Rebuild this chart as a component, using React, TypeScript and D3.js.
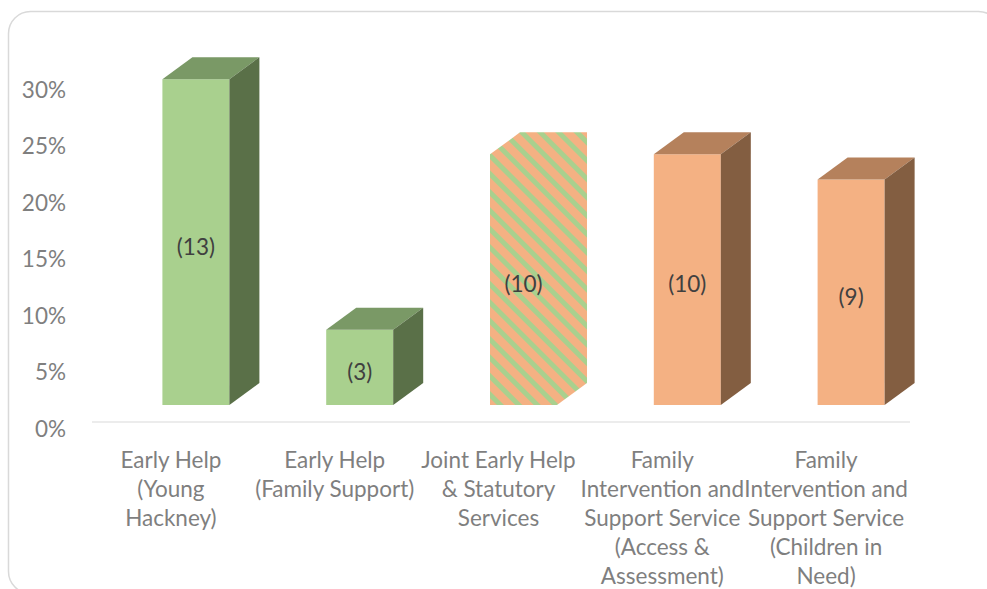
import * as d3 from "d3";
import React from "react";

// number of cases per service (shown in brackets on the bars)
const categories = ["yh", "fs", "joint", "fisaa", "fiscin"];
const counts = [13, 3, 10, 10, 9];
const categoryLines = [
  ["Early Help", "(Young", "Hackney)"],
  ["Early Help", "(Family Support)"],
  ["Joint Early Help", "& Statutory", "Services"],
  ["Family", "Intervention and", "Support Service", "(Access &", "Assessment)"],
  ["Family", "Intervention and", "Support Service", "(Children in", "Need)"],
];
// fill style for each bar
const barKinds = ["green", "green", "striped", "orange", "orange"];
const yTicks = [0, 0.05, 0.1, 0.15, 0.2, 0.25, 0.3];

const W = 987;
const H = 589;
const FONT = "Lato, 'Open Sans', sans-serif";
const FS = 22.5;

const palette: Record<string, { front: string; top: string; side: string }> = {
  green: { front: "#A9D08E", top: "#7A9966", side: "#5A7048" },
  orange: { front: "#F4B183", top: "#B5815C", side: "#835E41" },
};

const DX = 30; // 3d depth offsets
const DY = -22;
const BAR_W = 67;
const BAR_SHIFT = 25;

export default function App() {
  const total = d3.sum(counts);
  const pct = counts.map((c) => c / total);

  const x = d3.scaleBand<string>().domain(categories).range([89, 908]);
  const yFront = d3.scaleLinear().domain([0, 0.3]).range([405, 405 - 0.3 * 1128]);
  const yWall = d3.scaleLinear().domain([0, 0.3]).range([428, 89]);
  const fmt = d3.format(".0%");

  return (
    <svg width={W} height={H} style={{ position: "absolute", left: 0, top: 0 }} fontFamily={FONT}>
      <defs>
        <pattern id="stripes" patternUnits="userSpaceOnUse" width={13} height={13} patternTransform="rotate(-45)">
          <rect width={13} height={13} fill="#F4B183" />
          <rect x={0} width={5} height={13} fill="#A9D08E" />
        </pattern>
      </defs>
      <rect x={0} y={0} width={W} height={H} fill="#fff" />
      <rect x={8.5} y={11.5} width={992} height={582} rx={22} fill="#fff" stroke="#d9d9d9" strokeWidth={1.5} />

      {yTicks.map((t) => (
        <text key={t} x={66} y={yWall(t)} textAnchor="end" dominantBaseline="central" fontSize={FS} fill="#7f7f7f">
          {fmt(t)}
        </text>
      ))}
      <line x1={92} x2={910} y1={422} y2={422} stroke="#e6e6e6" strokeWidth={1.5} />

      {categories.map((c, i) => {
        const cx = (x(c) as number) + x.bandwidth() / 2;
        const x0 = cx + BAR_SHIFT - BAR_W / 2;
        const x1 = x0 + BAR_W;
        const yb = yFront(0);
        const yt = yFront(pct[i]);
        const kind = barKinds[i];
        const front = `M${x0},${yb}L${x1},${yb}L${x1},${yt}L${x0},${yt}Z`;
        const top = `M${x0},${yt}L${x1},${yt}L${x1 + DX},${yt + DY}L${x0 + DX},${yt + DY}Z`;
        const side = `M${x1},${yb}L${x1 + DX},${yb + DY}L${x1 + DX},${yt + DY}L${x1},${yt}Z`;
        const outline = `M${x0},${yb}L${x1},${yb}L${x1 + DX},${yb + DY}L${x1 + DX},${yt + DY}L${x0 + DX},${yt + DY}L${x0},${yt}Z`;
        return (
          <g key={c}>
            {kind === "striped" ? (
              <path d={outline} fill="url(#stripes)" />
            ) : (
              <>
                <path d={front} fill={palette[kind].front} />
                <path d={top} fill={palette[kind].top} />
                <path d={side} fill={palette[kind].side} />
              </>
            )}
            <text
              x={(x0 + x1) / 2}
              y={(yb + yt) / 2 + 4}
              textAnchor="middle"
              dominantBaseline="central"
              fontSize={FS}
              fill="#404040"
            >
              ({counts[i]})
            </text>
            <text textAnchor="middle" fontSize={FS} fill="#7f7f7f">
              {categoryLines[i].map((line, j) => (
                <tspan key={j} x={cx} y={468 + j * 29}>
                  {line}
                </tspan>
              ))}
            </text>
          </g>
        );
      })}
    </svg>
  );
}
